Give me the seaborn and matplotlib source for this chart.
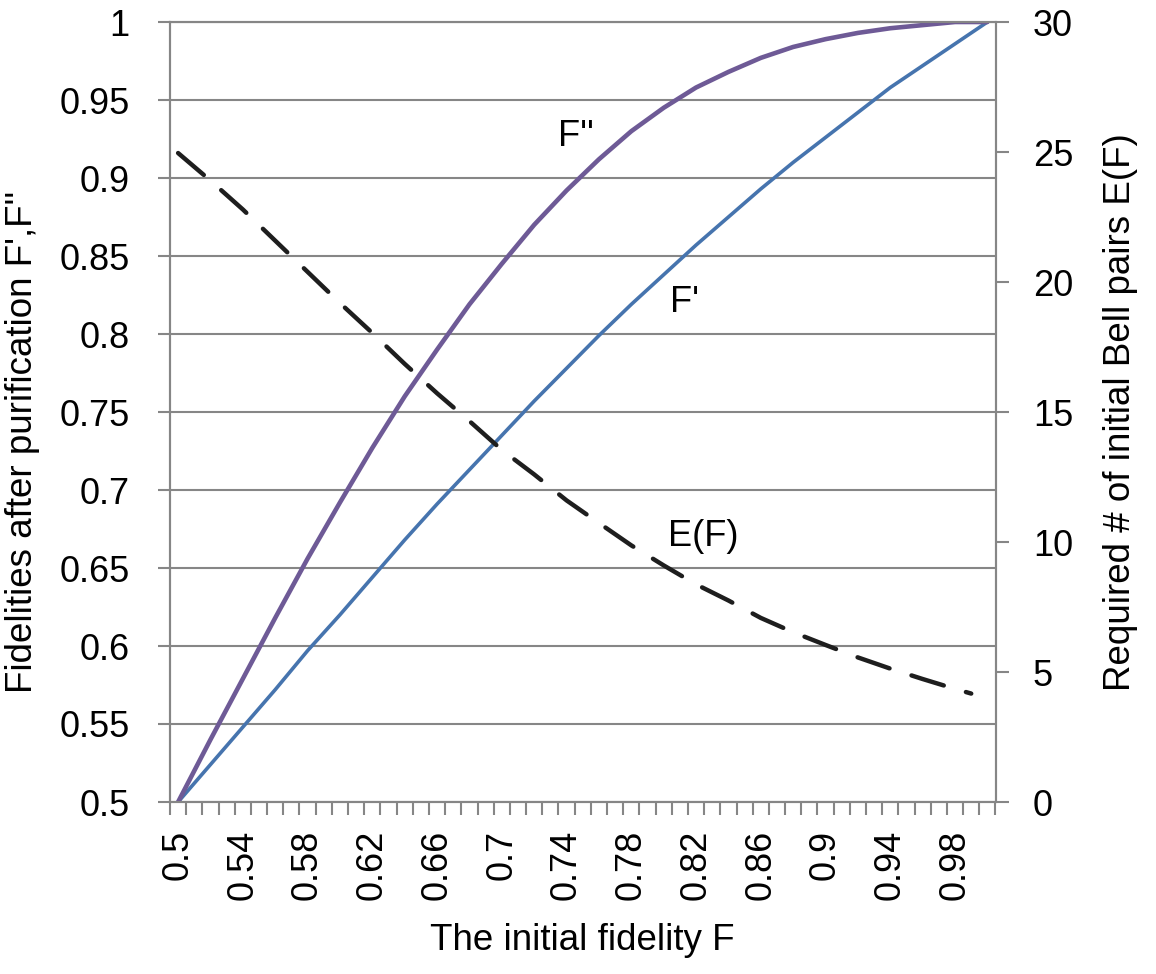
import numpy as np
import pandas as pd
import matplotlib.pyplot as plt
import seaborn as sns

sns.set_theme(style="white")
plt.rcParams['font.family'] = ['Liberation Sans', 'DejaVu Sans']
plt.rcParams['text.color'] = 'black'
plt.rcParams['axes.labelcolor'] = 'black'

# values
f_initial = [0.50, 0.52, 0.54, 0.56, 0.58, 0.60, 0.62, 0.64, 0.66, 0.68,
             0.70, 0.72, 0.74, 0.76, 0.78, 0.80, 0.82, 0.84, 0.86, 0.88,
             0.90, 0.92, 0.94, 0.96, 0.98, 1.00]
f_prime = [0.500, 0.524, 0.548, 0.572, 0.597, 0.620, 0.644, 0.668, 0.691, 0.713,
           0.735, 0.757, 0.778, 0.799, 0.819, 0.838, 0.857, 0.875, 0.893, 0.910,
           0.926, 0.942, 0.958, 0.972, 0.986, 1.000]
f_double = [0.500, 0.540, 0.579, 0.618, 0.656, 0.692, 0.727, 0.760, 0.790, 0.819,
            0.845, 0.870, 0.892, 0.912, 0.930, 0.945, 0.958, 0.968, 0.977, 0.984,
            0.989, 0.993, 0.996, 0.998, 1.000, 1.000]

f_bell = [0.50, 0.52, 0.54, 0.56, 0.58, 0.60, 0.62, 0.64, 0.66, 0.68,
          0.70, 0.72, 0.74, 0.76, 0.78, 0.80, 0.82, 0.84, 0.86, 0.88,
          0.90, 0.92, 0.94, 0.96, 0.98, 0.99]
e_bell = [24.96, 23.90, 22.79, 21.59, 20.39, 19.19, 18.04, 16.85, 15.72, 14.65,
          13.54, 12.60, 11.60, 10.73, 9.87, 9.10, 8.37, 7.75, 7.08, 6.53,
          6.04, 5.56, 5.13, 4.73, 4.35, 4.17]

x_labels = ['0.5', '0.54', '0.58', '0.62', '0.66', '0.7', '0.74', '0.78',
            '0.82', '0.86', '0.9', '0.94', '0.98']
x_label_pos = [0.50, 0.54, 0.58, 0.62, 0.66, 0.70, 0.74, 0.78, 0.82, 0.86, 0.90, 0.94, 0.98]
y_left_ticks = [0.5, 0.55, 0.6, 0.65, 0.7, 0.75, 0.8, 0.85, 0.9, 0.95, 1.0]
y_left_labels = ['0.5', '0.55', '0.6', '0.65', '0.7', '0.75', '0.8', '0.85', '0.9', '0.95', '1']
y_right_ticks = [0, 5, 10, 15, 20, 25, 30]

df_fid = pd.DataFrame({'F': f_initial, "F'": f_prime, "F''": f_double})
df_bell = pd.DataFrame({'F': f_bell, 'E': e_bell})

grey = '#868686'
purple = '#6E5A96'
blue = '#4674AE'

fig = plt.figure(figsize=(11.56, 9.74), dpi=100)
ax = fig.add_axes([170 / 1156, 1 - 802 / 974, 825.5 / 1156, 780 / 974])
ax2 = ax.twinx()

sns.lineplot(data=df_fid, x='F', y="F'", ax=ax, color=blue, lw=2.6)
sns.lineplot(data=df_fid, x='F', y="F''", ax=ax, color=purple, lw=3.3)
sns.lineplot(data=df_bell, x='F', y='E', ax=ax2, color='#1E1E1E', lw=3.2)
ax2.lines[0].set_dashes((7.6, 5.2))
ax2.lines[0].set_dash_capstyle('round')

# category style x axis: ticks between categories, label every 4th
ax.set_xlim(0.495, 1.005)
ax.set_xticks(x_label_pos, x_labels, rotation=90)
ax.set_xticks(np.arange(0.495, 1.0051, 0.01), minor=True)
ax.tick_params(axis='x', which='major', length=0, pad=20, labelsize=26,
               labelcolor='black')
ax.tick_params(axis='x', which='minor', length=9, width=1.5, color=grey,
               direction='out', bottom=True)

ax.set_ylim(0.5, 1.0)
ax.set_yticks(y_left_ticks, y_left_labels)
ax.tick_params(axis='y', length=9, width=1.5, color=grey, direction='out',
               left=True, pad=20, labelsize=26, labelcolor='black')
ax.grid(axis='y', color=grey, lw=1.5)
ax.grid(axis='x', visible=False)

ax2.set_ylim(0, 30)
ax2.set_yticks(y_right_ticks)
ax2.tick_params(axis='y', length=9, width=1.5, color=grey, direction='out',
                right=True, pad=18, labelsize=26, labelcolor='black')
ax2.grid(False)

for a in (ax, ax2):
    for s in a.spines.values():
        s.set_color(grey)
        s.set_linewidth(1.5)

ax.set_xlabel('The initial fidelity F', fontsize=26.5)
ax.xaxis.set_label_coords(0.5, -0.155)
ax.set_ylabel("Fidelities after purification F',F''", fontsize=26.5)
ax.yaxis.set_label_coords(-0.157, 0.4615)
ax2.set_ylabel('Required # of initial Bell pairs E(F)', fontsize=26.5)
ax2.yaxis.set_label_coords(1.13, 0.5)

ax.text(0.735, 0.9263, "F''", fontsize=26, ha='left', va='center')
ax.text(0.804, 0.8205, "F'", fontsize=26, ha='left', va='center')
ax.text(0.8027, 0.6699, 'E(F)', fontsize=26, ha='left', va='center')

fig.savefig('out.png', dpi=100)
